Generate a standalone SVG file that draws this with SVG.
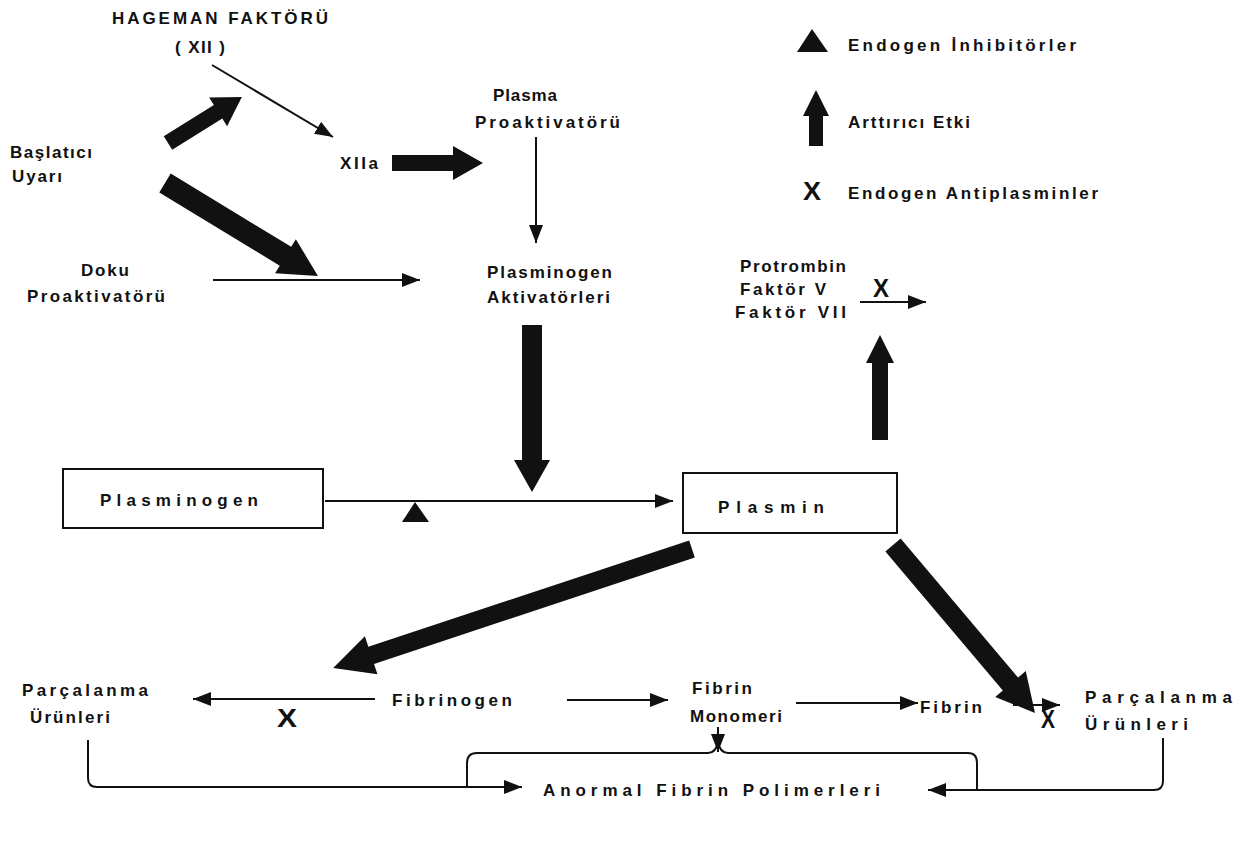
<svg xmlns="http://www.w3.org/2000/svg" width="1239" height="841" viewBox="0 0 1239 841">
<style>
text{font-family:"Liberation Sans","DejaVu Sans",sans-serif;font-size:17px;font-weight:bold;fill:#111;}
.x{font-size:25px;}
.thin{stroke:#111;stroke-width:2;fill:none;}
.thick{fill:#111;}
.box{fill:#fff;stroke:#111;stroke-width:2;}
</style>
<defs>
<marker id="ah" markerUnits="userSpaceOnUse" markerWidth="20" markerHeight="16" refX="18" refY="7" orient="auto">
<path d="M0,0 L18,7 L0,14 z" fill="#111"/>
</marker>
</defs>
<rect width="1239" height="841" fill="#fff"/>

<g id="connectors">
<line class="thin" x1="212" y1="65" x2="333" y2="137" marker-end="url(#ah)"/>
<line class="thin" x1="536" y1="137" x2="536" y2="243" marker-end="url(#ah)"/>
<line class="thin" x1="213" y1="280" x2="420" y2="280" marker-end="url(#ah)"/>
<line class="thin" x1="325" y1="501" x2="673" y2="501" marker-end="url(#ah)"/>
<line class="thin" x1="860" y1="302" x2="926" y2="302" marker-end="url(#ah)"/>
<line class="thin" x1="375" y1="699" x2="193" y2="699" marker-end="url(#ah)"/>
<line class="thin" x1="567" y1="700" x2="668" y2="700" marker-end="url(#ah)"/>
<line class="thin" x1="796" y1="703" x2="918" y2="703" marker-end="url(#ah)"/>
<line class="thin" x1="1013" y1="705" x2="1060" y2="705" marker-end="url(#ah)"/>
<line class="thin" x1="718" y1="727" x2="718" y2="752" marker-end="url(#ah)"/>
<path class="thin" d="M88,740 V778 Q88,787 97,787 H522" marker-end="url(#ah)"/>
<path class="thin" d="M1163,738 V781 Q1163,790 1154,790 H928" marker-end="url(#ah)"/>
<path class="thin" d="M467,787 V763 Q467,753 477,753 H708 Q716,753 718,742 Q720,753 728,753 H968 Q977,753 977,763 V790"/>
<polygon class="thick" transform="translate(168,143) rotate(-31.9)" points="0,-8 59,-8 59,-17 87,0 59,17 59,8 0,8"/>
<polygon class="thick" transform="translate(165,183) rotate(31.3)" points="0,-11 141,-11 141,-20 179,0 141,20 141,11 0,11"/>
<polygon class="thick" transform="translate(392,163)" points="0,-8 61,-8 61,-17 91,0 61,17 61,8 0,8"/>
<polygon class="thick" transform="translate(532,325) rotate(90)" points="0,-10 135,-10 135,-18 167,0 135,18 135,10 0,10"/>
<polygon class="thick" transform="translate(692,549) rotate(161.66)" points="0,-9 338,-9 338,-20 378,0 338,20 338,9 0,9"/>
<polygon class="thick" transform="translate(893,545) rotate(49.8)" points="0,-10 182,-10 182,-20 220,0 182,20 182,10 0,10"/>
<polygon class="thick" transform="translate(880,440) rotate(-90)" points="0,-8 77,-8 77,-14 105,0 77,14 77,8 0,8"/>
<polygon class="thick" points="402,522 415,502 429,522"/>
<text class="x" x="873" y="297" textLength="16" lengthAdjust="spacingAndGlyphs">X</text>
<text class="x" x="277" y="727" textLength="20" lengthAdjust="spacingAndGlyphs">X</text>
<text class="x" x="1041" y="728" textLength="14" lengthAdjust="spacingAndGlyphs">X</text>
</g>

<g id="legend">
<polygon class="thick" points="797,52 812,29 828,52"/>
<text x="848" y="51" textLength="228" lengthAdjust="spacing">Endogen İnhibitörler</text>
<polygon class="thick" transform="translate(816,146) rotate(-90)" points="0,-7 30,-7 30,-13 56,0 30,13 30,7 0,7"/>
<text x="848" y="128" textLength="122" lengthAdjust="spacing">Arttırıcı Etki</text>
<text class="x" x="803" y="200" font-size="28" textLength="18" lengthAdjust="spacingAndGlyphs">X</text>
<text x="848" y="199" textLength="250" lengthAdjust="spacing">Endogen Antiplasminler</text>
</g>

<g id="hageman">
<text x="112" y="24" textLength="216" lengthAdjust="spacing">HAGEMAN FAKTÖRÜ</text>
<text x="175" y="53" textLength="50" lengthAdjust="spacing">( XII )</text>
</g>
<g id="baslatici">
<text x="10" y="158" textLength="82" lengthAdjust="spacing">Başlatıcı</text>
<text x="12" y="182" textLength="50" lengthAdjust="spacing">Uyarı</text>
</g>
<g id="xiia"><text x="340" y="169" textLength="38" lengthAdjust="spacing">XIIa</text></g>
<g id="plasma-proaktivatoru">
<text x="493" y="101" textLength="64" lengthAdjust="spacing">Plasma</text>
<text x="475" y="128" textLength="145" lengthAdjust="spacing">Proaktivatörü</text>
</g>
<g id="doku-proaktivatoru">
<text x="81" y="276" textLength="48" lengthAdjust="spacing">Doku</text>
<text x="27" y="302" textLength="138" lengthAdjust="spacing">Proaktivatörü</text>
</g>
<g id="plasminogen-aktivatorleri">
<text x="487" y="278" textLength="125" lengthAdjust="spacing">Plasminogen</text>
<text x="487" y="303" textLength="123" lengthAdjust="spacing">Aktivatörleri</text>
</g>
<g id="protrombin">
<text x="740" y="272" textLength="106" lengthAdjust="spacing">Protrombin</text>
<text x="740" y="295" textLength="86" lengthAdjust="spacing">Faktör V</text>
<text x="735" y="318" textLength="111" lengthAdjust="spacing">Faktör VII</text>
</g>
<g id="plasminogen">
<rect class="box" x="63" y="469" width="260" height="59"/>
<text x="100" y="506" textLength="158" lengthAdjust="spacing">Plasminogen</text>
</g>
<g id="plasmin">
<rect class="box" x="683" y="473" width="214" height="60"/>
<text x="718" y="513" textLength="106" lengthAdjust="spacing">Plasmin</text>
</g>
<g id="parcalanma-left">
<text x="22" y="696" textLength="126" lengthAdjust="spacing">Parçalanma</text>
<text x="30" y="723" textLength="80" lengthAdjust="spacing">Ürünleri</text>
</g>
<g id="fibrinogen"><text x="392" y="706" textLength="120" lengthAdjust="spacing">Fibrinogen</text></g>
<g id="fibrin-monomeri">
<text x="692" y="694" textLength="60" lengthAdjust="spacing">Fibrin</text>
<text x="690" y="722" textLength="92" lengthAdjust="spacing">Monomeri</text>
</g>
<g id="fibrin"><text x="920" y="713" textLength="62" lengthAdjust="spacing">Fibrin</text></g>
<g id="parcalanma-right">
<text x="1085" y="703" textLength="147" lengthAdjust="spacing">Parçalanma</text>
<text x="1085" y="730" textLength="103" lengthAdjust="spacing">Ürünleri</text>
</g>
<g id="anormal"><text x="543" y="796" textLength="337" lengthAdjust="spacing">Anormal Fibrin Polimerleri</text></g>
</svg>
